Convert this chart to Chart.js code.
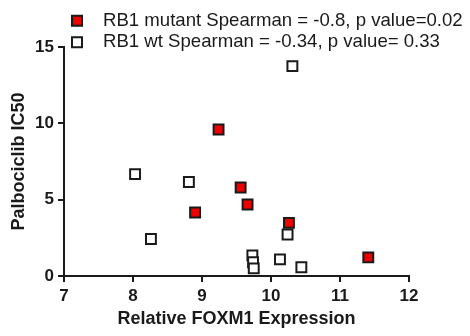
<!DOCTYPE html>
<html>
<head>
<meta charset="utf-8">
<script src="https://cdn.jsdelivr.net/npm/chart.js@4.4.1/dist/chart.umd.min.js"></script>
<style>
  html, body { margin: 0; padding: 0; background: #ffffff; }
  #wrap { position: relative; width: 470px; height: 336px; }
</style>
</head>
<body>
<div id="wrap"><canvas id="c" width="470" height="336"></canvas></div>
<script>
const seriesLabels = [
  "RB1 mutant Spearman = -0.8, p value=0.02",
  "RB1 wt Spearman = -0.34, p value= 0.33"
];
const mutantX = [9.24, 9.56, 9.66, 8.90, 10.26, 11.41];
const mutantY = [9.6, 5.8, 4.68, 4.16, 3.48, 1.22];
const wtX = [10.31, 8.03, 8.81, 8.26, 10.24, 9.73, 9.74, 9.75, 10.13, 10.44];
const wtY = [13.75, 6.67, 6.16, 2.42, 2.72, 1.35, 0.9, 0.5, 1.09, 0.57];
const xTicks = [7, 8, 9, 10, 11, 12];
const yTicks = [0, 5, 10, 15];
const xTitle = "Relative FOXM1 Expression";
const yTitle = "Palbociclib IC50";

const FONT = '"Liberation Sans", Arial, Helvetica, sans-serif';
const INK = '#1a1a1a';

function pts(xs, ys) { return xs.map((x, i) => ({ x: x, y: ys[i] })); }

const legendPlugin = {
  id: 'leftLegend',
  afterDraw(chart) {
    const ctx = chart.ctx;
    const rows = [20.7, 42.3];
    ctx.save();
    chart.data.datasets.forEach((ds, i) => {
      const cy = rows[i];
      const cx = 77;
      const s = 10;
      ctx.fillStyle = ds.backgroundColor;
      ctx.strokeStyle = ds.borderColor;
      ctx.lineWidth = 2;
      ctx.beginPath();
      ctx.rect(cx - s / 2, cy - s / 2, s, s);
      ctx.fill();
      ctx.stroke();
      ctx.fillStyle = INK;
      ctx.font = '18.6px ' + FONT;
      ctx.textBaseline = 'middle';
      ctx.textAlign = 'left';
      ctx.fillText(ds.label, 103, cy);
    });
    ctx.restore();
  }
};

new Chart(document.getElementById('c'), {
  type: 'scatter',
  data: {
    datasets: [
      {
        label: seriesLabels[0],
        data: pts(mutantX, mutantY),
        backgroundColor: '#ee0000',
        borderColor: INK,
        borderWidth: 2,
        pointStyle: 'rect',
        pointRadius: 7,
        pointHoverRadius: 7
      },
      {
        label: seriesLabels[1],
        data: pts(wtX, wtY),
        backgroundColor: '#ffffff',
        borderColor: INK,
        borderWidth: 2,
        pointStyle: 'rect',
        pointRadius: 7,
        pointHoverRadius: 7
      }
    ]
  },
  options: {
    responsive: false,
    animation: false,
    events: [],
    layout: { padding: { left: 0, right: 61, top: 47, bottom: 0 } },
    plugins: {
      legend: { display: false },
      tooltip: { enabled: false }
    },
    scales: {
      x: {
        type: 'linear',
        min: 7, max: 12,
        afterBuildTicks(scale) { scale.ticks = xTicks.map(v => ({ value: v })); },
        afterFit(scale) { scale.height = 60; },
        border: { display: true, color: INK, width: 2 },
        grid: { display: true, drawOnChartArea: false, drawTicks: true, tickLength: 6, color: INK, lineWidth: 2 },
        ticks: { color: INK, padding: 4, font: { family: FONT, size: 17, weight: 'bold' }, maxRotation: 0 },
        title: { display: true, text: xTitle, color: INK, padding: { top: 0, bottom: 6 }, font: { family: FONT, size: 18, weight: 'bold' } }
      },
      y: {
        type: 'linear',
        min: 0, max: 15,
        afterBuildTicks(scale) { scale.ticks = yTicks.map(v => ({ value: v })); },
        afterFit(scale) { scale.width = 64; },
        border: { display: true, color: INK, width: 2 },
        grid: { display: true, drawOnChartArea: false, drawTicks: true, tickLength: 6, color: INK, lineWidth: 2 },
        ticks: { color: INK, padding: 4, font: { family: FONT, size: 17, weight: 'bold' } },
        title: { display: true, text: yTitle, color: INK, padding: { top: 8, bottom: 0 }, font: { family: FONT, size: 18, weight: 'bold' } }
      }
    }
  },
  plugins: [legendPlugin]
});
</script>
</body>
</html>
